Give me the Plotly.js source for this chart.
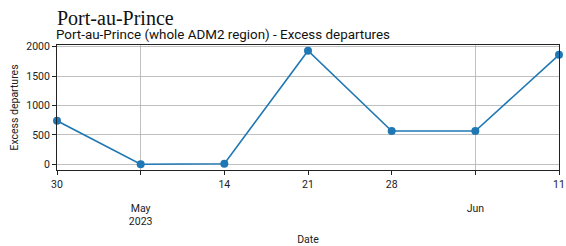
<!DOCTYPE html>
<html>
<head>
<meta charset="utf-8">
<script src="https://cdn.plot.ly/plotly-3.0.1.min.js"></script>
<style>html,body{margin:0;padding:0;background:#fff;}#chart{width:566px;height:246px;}</style>
</head>
<body>
<div id="chart"></div>
<script>
const dates = ['2023-04-30','2023-05-07','2023-05-14','2023-05-21','2023-05-28','2023-06-04','2023-06-11'];
const excessDepartures = [740, 0, 10, 1930, 565, 565, 1860];
const minorTickLabels = ['30','','14','21','28','','11'];
const majorTickDates = ['2023-05-07','2023-06-04'];
const majorTickLabels = ['May<br>2023','Jun'];
const yTicks = [0, 500, 1000, 1500, 2000];

const font = 'Roboto, "DejaVu Sans", sans-serif';
const trace = {
  x: dates, y: excessDepartures, type: 'scatter', mode: 'lines+markers',
  line: {color: '#1f77b4', width: 1.6},
  marker: {color: '#1f77b4', size: 8},
  cliponaxis: false, showlegend: false
};
const ghost = {x: dates, y: excessDepartures, xaxis: 'x2', mode: 'none', hoverinfo: 'skip', showlegend: false, type: 'scatter'};

const layout = {
  width: 566, height: 246,
  margin: {l: 57, r: 7, t: 45, b: 76},
  paper_bgcolor: '#fff', plot_bgcolor: '#fff',
  font: {family: font, size: 10.5, color: '#222'},
  title: {text: 'Port-au-Prince', font: {family: '"Liberation Serif", "DejaVu Serif", serif', size: 20, color: '#111'},
          xref: 'paper', x: 0, xanchor: 'left', yref: 'container', y: 1 - 18/246, yanchor: 'middle'},
  xaxis: {
    type: 'date', range: [dates[0], dates[dates.length-1]],
    tickmode: 'array', tickvals: dates, ticktext: minorTickLabels,
    ticks: 'outside', ticklen: 4, tickcolor: '#222', tickwidth: 1,
    showgrid: false, zeroline: false,
    showline: true, linecolor: '#222', linewidth: 1, mirror: true,
    tickfont: {size: 10.5},
    title: {text: 'Date', font: {size: 10.5}, standoff: 47}
  },
  xaxis2: {
    type: 'date', overlaying: 'x', matches: 'x', side: 'bottom',
    tickmode: 'array', tickvals: majorTickDates, ticktext: majorTickLabels,
    ticks: 'outside', ticklen: 4, tickcolor: '#222',
    showgrid: true, gridcolor: '#b0b0b0', gridwidth: 0.8,
    showline: false, zeroline: false,
    ticklabelstandoff: 24, tickfont: {size: 10.5}
  },
  yaxis: {
    range: [-97, 2027], tickmode: 'array', tickvals: yTicks,
    ticks: 'outside', ticklen: 4, tickcolor: '#222',
    showgrid: true, gridcolor: '#b0b0b0', gridwidth: 0.8, zeroline: false,
    showline: true, linecolor: '#222', linewidth: 1, mirror: true,
    tickfont: {size: 10.5},
    title: {text: 'Excess departures', font: {size: 10.5}, standoff: 5}
  },
  annotations: [{
    text: 'Port-au-Prince (whole ADM2 region) - Excess departures',
    xref: 'paper', yref: 'paper', x: 0, xanchor: 'left', xshift: -2, y: (170-35)/125, yanchor: 'middle',
    showarrow: false, font: {size: 13.4, color: '#111'}, borderpad: 0
  }]
};
Plotly.newPlot('chart', [ghost, trace], layout, {staticPlot: true, displayModeBar: false});
</script>
</body>
</html>
